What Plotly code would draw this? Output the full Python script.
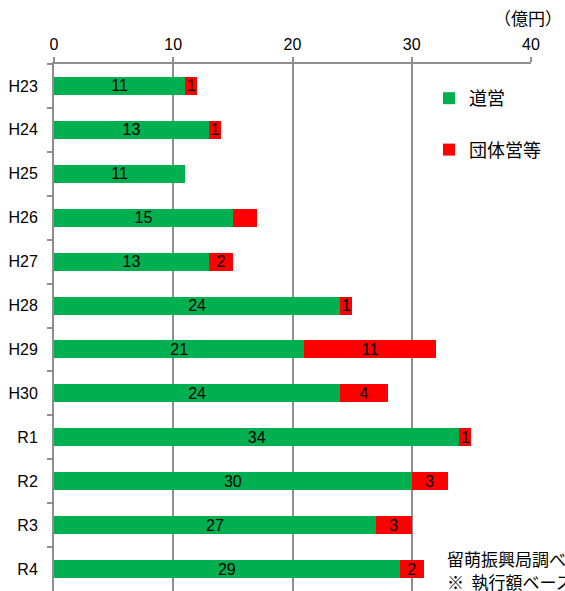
import plotly.graph_objects as go

categories = ["H23", "H24", "H25", "H26", "H27", "H28", "H29", "H30", "R1", "R2", "R3", "R4"]
douei = [11, 13, 11, 15, 13, 24, 21, 24, 34, 30, 27, 29]
dantai = [1, 1, 0, 2, 2, 1, 11, 4, 1, 3, 3, 2]
douei_labels = ["11", "13", "11", "15", "13", "24", "21", "24", "34", "30", "27", "29"]
dantai_labels = ["1", "1", "", "", "2", "1", "11", "4", "1", "3", "3", "2"]
x_ticks = [0, 10, 20, 30, 40]

JP = "Noto Sans CJK JP"
LAT = "Liberation Sans, Arial, sans-serif"
GRID = "#8f8f8f"

W, H = 565, 591
ML, MR, MT, MB = 54, 34, 64, 0
PW, PH = W - ML - MR, H - MT - MB


def px(x):
    return (x - ML) / PW


def py(y):
    return (H - MB - y) / PH


fig = go.Figure()
fig.add_trace(go.Bar(
    y=categories, x=douei, orientation="h", name="道営",
    marker=dict(color="#00B050", line=dict(width=0)),
    text=douei_labels, textposition="inside", insidetextanchor="middle",
    textangle=0, textfont=dict(family=LAT, size=16, color="black"),
    width=0.41, legendgroup="a",
))
fig.add_trace(go.Bar(
    y=categories, x=dantai, orientation="h", name="団体営等",
    marker=dict(color="#FF0000", line=dict(width=0)),
    text=dantai_labels, textposition="inside", insidetextanchor="middle",
    textangle=0, textfont=dict(family=LAT, size=16, color="black"),
    width=0.41, legendgroup="b",
))

fig.update_layout(
    width=W, height=H,
    margin=dict(l=ML, r=MR, t=MT, b=MB, pad=0, autoexpand=False),
    barmode="stack",
    plot_bgcolor="white", paper_bgcolor="white",
    uniformtext=dict(minsize=16, mode="show"),
    font=dict(family=LAT, size=16, color="black"),
    xaxis=dict(
        side="top", range=[0, 40], tickvals=x_ticks,
        showgrid=True, gridcolor=GRID, gridwidth=2,
        zeroline=False, showline=True, linecolor=GRID, linewidth=2,
        ticks="outside", ticklen=5, tickcolor=GRID, tickwidth=2,
        tickfont=dict(family=LAT, size=16, color="black"),
        ticklabelstandoff=1, automargin=False,
        fixedrange=True,
    ),
    yaxis=dict(
        autorange="reversed", type="category",
        showgrid=False, zeroline=False,
        showline=True, linecolor=GRID, linewidth=2,
        ticks="outside", ticklen=5, tickcolor=GRID, tickwidth=2,
        tickson="boundaries",
        tickfont=dict(family=LAT, size=16, color="black"),
        ticklabelstandoff=11, automargin=False,
    ),
    legend=dict(
        x=px(429), y=py(80), xanchor="left", yanchor="top",
        bgcolor="rgba(0,0,0,0)", borderwidth=0,
        font=dict(family=JP, size=18, color="black"),
        traceorder="grouped", tracegroupgap=25,
    ),
    showlegend=True,
)

# white panels that interrupt the 40 gridline behind legend and notes
fig.add_shape(type="rect", xref="paper", yref="paper",
              x0=px(445), x1=px(560), y0=py(175), y1=py(69),
              fillcolor="white", line=dict(width=0), layer="above")
fig.add_shape(type="rect", xref="paper", yref="paper",
              x0=px(440), x1=px(566), y0=py(591), y1=py(536),
              fillcolor="white", line=dict(width=0), layer="above")

fig.add_annotation(text="（億円）", xref="paper", yref="paper",
                   x=px(564), y=py(18), xanchor="right", yanchor="middle",
                   showarrow=False, font=dict(family=JP, size=17, color="black"))
fig.add_annotation(text="留萌振興局調べ", xref="paper", yref="paper",
                   x=px(445), y=py(558), xanchor="left", yanchor="middle",
                   showarrow=False, font=dict(family=JP, size=17, color="black"))
fig.add_annotation(text="※  執行額ベース", xref="paper", yref="paper",
                   x=px(445), y=py(581), xanchor="left", yanchor="middle",
                   showarrow=False, font=dict(family=JP, size=17, color="black"))

fig.write_html("out.html", config={"displayModeBar": False},
               post_script="document.body.style.margin='0';document.body.style.overflow='hidden';")
